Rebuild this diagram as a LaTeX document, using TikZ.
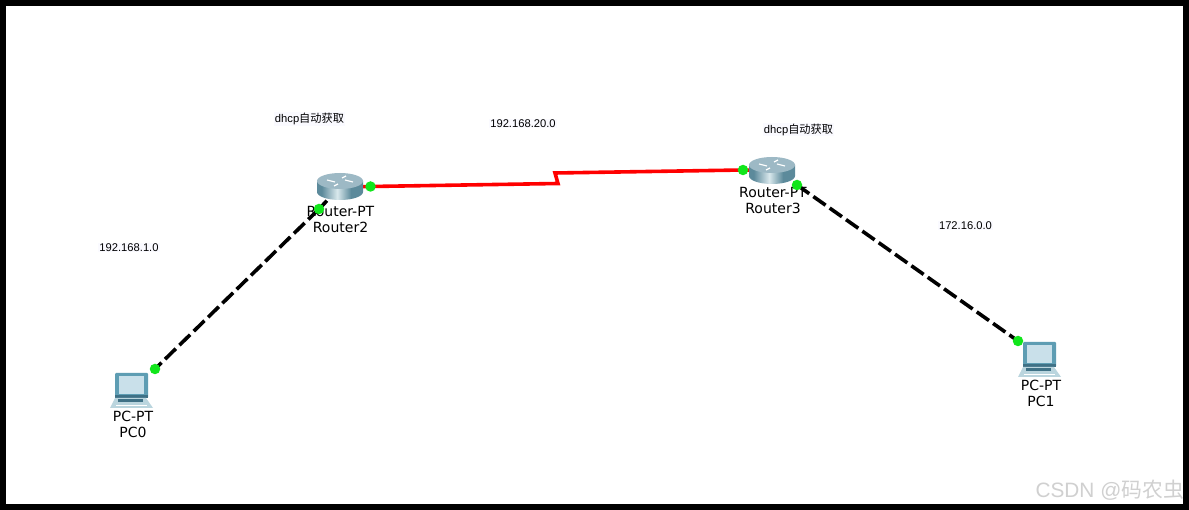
\documentclass[tikz,border=0pt]{standalone}
\usepackage{fontspec}
\setmainfont{DejaVu Sans}
\newfontfamily\notefont{Liberation Sans}
\newfontfamily\cjk{Noto Sans CJK SC}
\usetikzlibrary{backgrounds}
\definecolor{routertop}{HTML}{9DB9C5}
\definecolor{routeredge}{HTML}{5C8A9B}
\definecolor{routerpale}{HTML}{D9E8EC}
\definecolor{pcblue}{HTML}{5E9DB3}
\definecolor{pcscreen}{HTML}{C9E0EA}
\definecolor{pcdark}{HTML}{3F7186}
\definecolor{pckeys}{HTML}{BAD5DE}
\definecolor{portgreen}{HTML}{11E61B}
\definecolor{marktext}{HTML}{D0D0D0}
\pgfdeclarehorizontalshading{routerside}{100bp}{
  color(0bp)=(routeredge); color(30bp)=(routeredge); color(47bp)=(routerpale);
  color(62bp)=(routeredge); color(100bp)=(routeredge)}
\tikzset{
  devbox/.style={inner sep=0pt, minimum width=46pt, minimum height=27pt},
  devlabel/.style={inner sep=0pt, align=center, font=\fontsize{14}{16}\selectfont},
  note/.style={inner sep=1pt, fill=blue!2, font=\fontsize{11.2}{12}\notefont},
  port/.style={circle, fill=portgreen, inner sep=0pt, minimum size=10.5pt},
  serial/.style={red, line width=3.6pt},
  copper/.style={black, line width=3.6pt, dash pattern=on 15pt off 5pt},
  pics/routericon/.style={code={
    \path[shading=routerside] (-23,-6) -- (-23,5) .. controls (-23,9.4) and (-12.7,13) .. (0,13) .. controls (12.7,13) and (23,9.4) .. (23,5) -- (23,-6) -- cycle;
    \fill[routertop] (0,-6) ellipse[x radius=23pt, y radius=8pt];
    \draw[white, line width=1.2pt] (-13,-7) -- (-5,-5) (13,-5) -- (5,-7) (-6,-1) -- (-2,-3) (6,-11) -- (2,-9);
  }},
  pics/pcicon/.style={code={
    \fill[pcblue, rounded corners=1pt] (-16,-15) rectangle (17,10);
    \fill[pcscreen] (-12,-12) rectangle (13,6);
    \fill[pcdark] (-16,7) rectangle (17,10);
    \fill[pckeys] (-16,10) -- (15,10) -- (22,20) -- (-21,20) -- cycle;
    \fill[pcdark] (-13,11) rectangle (12,14);
    \draw[white, line width=.8pt] (-15,17) -- (16,17);
  }}
}
\begin{document}
\begin{tikzpicture}[x=1pt, y=-1pt]
\useasboundingbox (0,0) rectangle (1189,510);

% devices
\node[devbox] (router2) at (340,187) {};
\pic at (router2) {routericon};
\node[devbox] (router3) at (772,171) {};
\pic at (router3) {routericon};
\node[devbox] (pc0) at (131,388) {};
\pic at (pc0) {pcicon};
\node[devbox] (pc1) at (1039,357) {};
\pic at (pc1) {pcicon};

\node[devlabel] (router2label) at (340.5,219.5) {Router-PT\\Router2};
\node[devlabel] (router3label) at (773,200.5) {Router-PT\\Router3};
\node[devlabel] (pc0label) at (133,424.5) {PC-PT\\PC0};
\node[devlabel] (pc1label) at (1041,393.5) {PC-PT\\PC1};

% ports
\node[port] (r2serial) at (370.5,186.5) {};
\node[port] (r2fast) at (319,209) {};
\node[port] (r3serial) at (743,170) {};
\node[port] (r3fast) at (797,185) {};
\node[port] (pc0port) at (155,369) {};
\node[port] (pc1port) at (1018,341) {};

% zigzag of the serial link
\coordinate (bendleft) at (558,183.5);
\coordinate (bendright) at (555,173);

% links
\begin{scope}[on background layer]
\fill[white] (0,0) rectangle (1189,510);
\draw[black, line width=6pt] (3,3) rectangle (1186,507);
\draw[serial] (router2) -- (r2serial.center) -- (bendleft) -- (bendright) -- (r3serial.center) -- (router3);
\draw[copper] (r2fast.center) -- (pc0port.center);
\draw[copper] (r3fast.center) -- (pc1port.center);
\draw[black, line width=3.6pt] (router2) -- (r2fast.center);
\draw[black, line width=3.6pt] (router3) -- (r3fast.center);
\end{scope}

% notes
\node[note] (dhcpleft) at (309.5,119) {dhcp{\cjk 自动获取}};
\node[note] (dhcpright) at (798.5,129.5) {dhcp{\cjk 自动获取}};
\node[note] (netleft) at (129,247.5) {192.168.1.0};
\node[note] (netmiddle) at (523,123.5) {192.168.20.0};
\node[note] (netright) at (965.5,225.5) {172.16.0.0};

\node[inner sep=0pt, anchor=east, text=marktext, font=\fontsize{20.8}{24}\selectfont\notefont] (watermark) at (1184,490) {CSDN @{\cjk 码农虫}};
\end{tikzpicture}
\end{document}
